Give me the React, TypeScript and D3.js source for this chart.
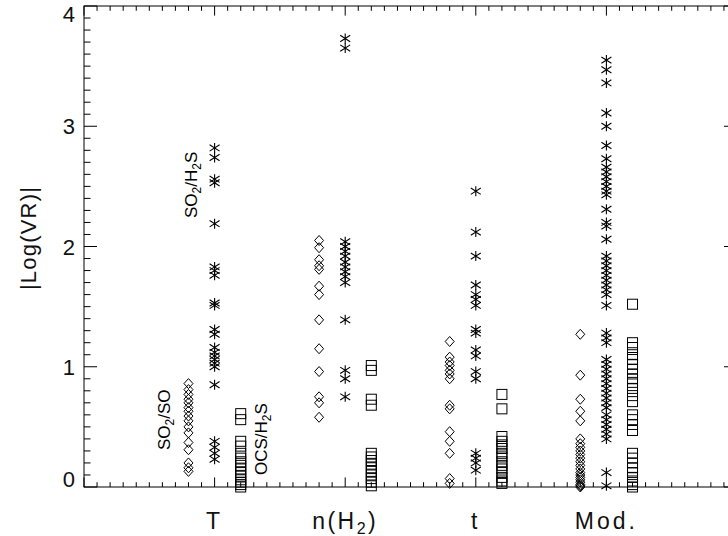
import React from "react";
import * as d3 from "d3";

// Categories on the x axis (positions 1..4)
const categories = ["T", "n(H2)", "t", "Mod."];
const yTickLabels = ["0", "1", "2", "3", "4"];

// SO2/SO ratios (diamonds), one array per category
const so2soT = [0.86, 0.81, 0.77, 0.73, 0.70, 0.66, 0.63, 0.59, 0.55, 0.50, 0.45, 0.37, 0.31, 0.20, 0.16, 0.13];
const so2soN = [2.05, 1.99, 1.89, 1.84, 1.81, 1.67, 1.60, 1.39, 1.15, 0.96, 0.75, 0.70, 0.58];
const so2soTime = [1.21, 1.08, 1.04, 1.01, 0.97, 0.94, 0.90, 0.68, 0.65, 0.46, 0.38, 0.28, 0.07, 0.03];
const so2soMod = [1.27, 0.93, 0.73, 0.63, 0.55, 0.40, 0.36, 0.33, 0.30, 0.27, 0.24, 0.21, 0.18, 0.15, 0.12, 0.10, 0.08, 0.06, 0.04, 0.02, 0.01, 0.0];

// SO2/H2S ratios (asterisks)
const so2h2sT = [2.82, 2.74, 2.56, 2.53, 2.19, 1.83, 1.80, 1.76, 1.53, 1.51, 1.31, 1.27, 1.16, 1.12, 1.09, 1.06, 1.03, 1.00, 0.85, 0.38, 0.33, 0.28, 0.23];
const so2h2sN = [3.73, 3.65, 2.04, 2.00, 1.96, 1.92, 1.87, 1.83, 1.79, 1.75, 1.70, 1.39, 0.97, 0.90, 0.75];
const so2h2sTime = [2.46, 2.12, 1.92, 1.68, 1.60, 1.56, 1.51, 1.31, 1.28, 1.14, 1.09, 0.96, 0.90, 0.28, 0.24, 0.20, 0.14];
const so2h2sMod = [3.55, 3.47, 3.36, 3.11, 3.00, 2.84, 2.73, 2.66, 2.62, 2.58, 2.54, 2.50, 2.46, 2.43, 2.31, 2.20, 2.17, 2.06, 1.92, 1.88, 1.84, 1.80, 1.76, 1.72, 1.68, 1.64, 1.60, 1.51, 1.28, 1.24, 1.20, 1.06, 1.02, 0.98, 0.94, 0.90, 0.86, 0.82, 0.78, 0.74, 0.70, 0.66, 0.60, 0.56, 0.52, 0.48, 0.44, 0.40, 0.12, 0.01];

// OCS/H2S ratios (squares)
const ocsh2sT = [0.61, 0.56, 0.38, 0.34, 0.28, 0.24, 0.21, 0.18, 0.15, 0.12, 0.09, 0.06, 0.04, 0.02, 0.0];
const ocsh2sN = [1.01, 0.97, 0.73, 0.68, 0.28, 0.25, 0.22, 0.19, 0.16, 0.13, 0.10, 0.07, 0.04, 0.01];
const ocsh2sTime = [0.77, 0.65, 0.42, 0.38, 0.35, 0.32, 0.28, 0.25, 0.21, 0.18, 0.15, 0.12, 0.08, 0.05, 0.03];
const ocsh2sMod = [1.52, 1.20, 1.16, 1.10, 1.06, 1.02, 0.98, 0.94, 0.90, 0.87, 0.82, 0.76, 0.71, 0.60, 0.56, 0.52, 0.47, 0.28, 0.24, 0.20, 0.16, 0.12, 0.08, 0.05, 0.02, 0.0];

const W = 728;
const H = 536;
const FONT = "'Liberation Sans', Arial, sans-serif";

const x = d3.scaleLinear().domain([0, 5]).range([84, 737]);
const y = d3.scaleLinear().domain([0, 4]).range([487, 6]);

const series = [
  { shape: "diamond", offset: -0.2, data: [so2soT, so2soN, so2soTime, so2soMod] },
  { shape: "star", offset: 0, data: [so2h2sT, so2h2sN, so2h2sTime, so2h2sMod] },
  { shape: "square", offset: 0.2, data: [ocsh2sT, ocsh2sN, ocsh2sTime, ocsh2sMod] },
];

function marker(shape: string, cx: number, cy: number, key: string) {
  if (shape === "diamond") {
    const p = `M${cx},${cy - 5}L${cx + 4.5},${cy}L${cx},${cy + 5}L${cx - 4.5},${cy}Z`;
    return <path key={key} d={p} fill="none" stroke="#000" strokeWidth={1} />;
  }
  if (shape === "square") {
    return <rect key={key} x={cx - 5} y={cy - 5} width={10} height={10} fill="none" stroke="#000" strokeWidth={1} />;
  }
  const p = `M${cx},${cy - 5}L${cx},${cy + 5}M${cx - 5},${cy - 3.2}L${cx + 5},${cy + 3.2}M${cx - 5},${cy + 3.2}L${cx + 5},${cy - 3.2}`;
  return <path key={key} d={p} fill="none" stroke="#000" strokeWidth={1.1} />;
}

export default function App() {
  const xMinor = d3.range(0, 51).map((i) => i / 10);
  const yMinor = d3.range(0, 41).map((i) => i / 10);
  const [x0, x1] = x.range();
  const [yb, yt] = y.range();

  return (
    <svg width={W} height={H} style={{ position: "absolute", left: 0, top: 0, background: "#fff" }} fontFamily={FONT}>
      <rect x={0} y={0} width={W} height={H} fill="#fff" />
      {/* frame */}
      <rect x={x0} y={yt} width={x1 - x0} height={yb - yt} fill="none" stroke="#000" strokeWidth={1} />
      {/* x ticks */}
      {xMinor.map((v, i) => {
        const major = i % 10 === 0;
        const len = major ? 9.6 : 4.8;
        const px = x(v);
        return (
          <g key={"xt" + i}>
            <line x1={px} x2={px} y1={yb} y2={yb - len} stroke="#000" />
            <line x1={px} x2={px} y1={yt} y2={yt + len} stroke="#000" />
          </g>
        );
      })}
      {/* y ticks */}
      {yMinor.map((v, i) => {
        const major = i % 10 === 0;
        const len = major ? 13 : 6.5;
        const py = y(v);
        return (
          <g key={"yt" + i}>
            <line x1={x0} x2={x0 + len} y1={py} y2={py} stroke="#000" />
            <line x1={x1} x2={x1 - len} y1={py} y2={py} stroke="#000" />
          </g>
        );
      })}
      {/* y tick labels */}
      {yTickLabels.map((lab, i) => {
        const py = y(i);
        let base = py + 8;
        if (i === 0) base = py;
        if (i === yTickLabels.length - 1) base = py + 16;
        return (
          <text key={"yl" + i} x={75} y={base} fontSize={22} textAnchor="end" fill="#111">
            {lab}
          </text>
        );
      })}
      {/* x category labels */}
      {categories.map((c, i) => {
        const px = x(i + 1);
        if (c === "n(H2)") {
          return (
            <text key={"xl" + i} x={px} y={529} fontSize={23} textAnchor="middle" letterSpacing={2.5} fill="#111">
              n(H<tspan fontSize={16} dy={5}>2</tspan><tspan dy={-5}>)</tspan>
            </text>
          );
        }
        return (
          <text key={"xl" + i} x={px} y={529} fontSize={23} textAnchor="middle" letterSpacing={3} fill="#111">
            {c}
          </text>
        );
      })}
      {/* y title */}
      <text transform="translate(36,238) rotate(-90)" fontSize={22} textAnchor="middle" letterSpacing={1.2} fill="#111">
        |Log(VR)|
      </text>
      {/* points */}
      {series.map((s, si) =>
        s.data.map((vals, ci) =>
          vals.map((v, k) => marker(s.shape, x(ci + 1 + s.offset), y(v), `m${si}-${ci}-${k}`))
        )
      )}
      {/* annotations */}
      <text transform="translate(170,450) rotate(-90)" fontSize={17} fill="#000">
        SO<tspan fontSize={12} dy={4}>2</tspan><tspan dy={-4}>/SO</tspan>
      </text>
      <text transform="translate(197,218) rotate(-90)" fontSize={17} fill="#000">
        SO<tspan fontSize={12} dy={4}>2</tspan><tspan dy={-4}>/H</tspan><tspan fontSize={12} dy={4}>2</tspan><tspan dy={-4}>S</tspan>
      </text>
      <text transform="translate(267,475) rotate(-90)" fontSize={17} fill="#000">
        OCS/H<tspan fontSize={12} dy={4}>2</tspan><tspan dy={-4}>S</tspan>
      </text>
    </svg>
  );
}
